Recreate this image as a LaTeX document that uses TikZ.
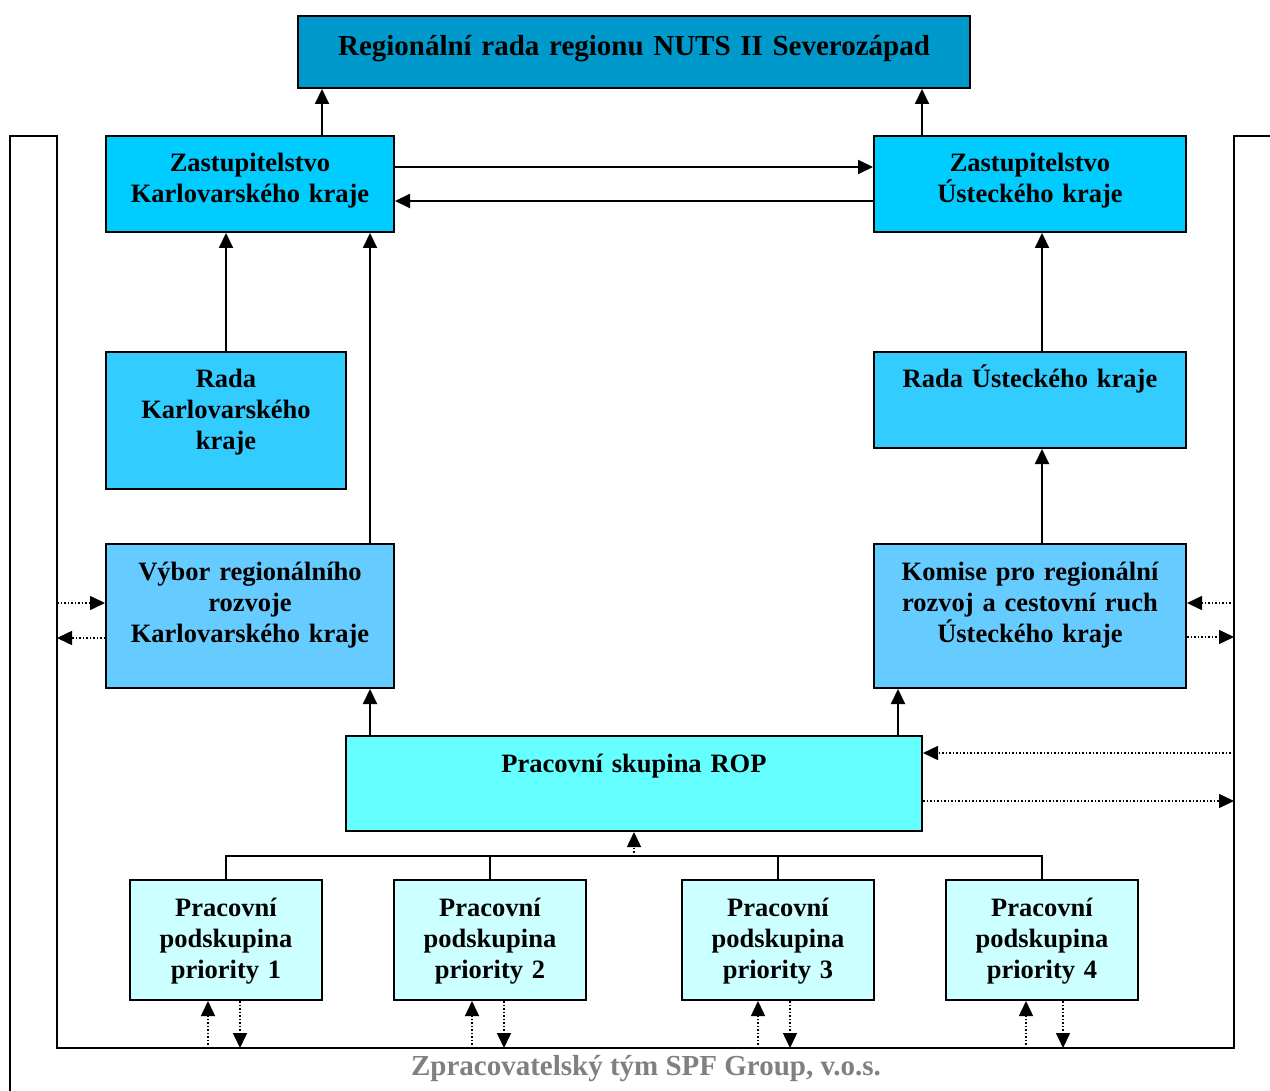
\documentclass[tikz,border=0pt]{standalone}
\usepackage{fontspec}
\setmainfont{Liberation Serif}
\usepackage{xcolor}
\definecolor{Col1}{RGB}{0,153,204}
\definecolor{Col2}{RGB}{0,204,255}
\definecolor{Col3}{RGB}{51,204,255}
\definecolor{Col4}{RGB}{102,204,255}
\definecolor{Col5}{RGB}{102,255,255}
\definecolor{Col6}{RGB}{204,255,255}
\definecolor{Col7}{RGB}{128,128,128}
\usepackage{tikz}
\usetikzlibrary{arrows.meta}
\newcommand{\BoxFont}{\fontsize{26.5}{31}\selectfont\bfseries\lineskiplimit=-100pt\relax}
\newcommand{\BigFont}{\fontsize{29}{31}\selectfont\bfseries}
\tikzstyle{Box}=[draw=black,line width=2pt,inner xsep=4pt,inner ysep=13pt,
text height=23pt,align=center,font=\BoxFont]
\tikzstyle{Edge}=[draw=black,line width=2pt,-{Triangle[length=15pt,width=14pt]}]
\tikzstyle{Dots}=[draw=black,line width=1.5pt,dash pattern=on 1.5pt off 2pt,
-{Triangle[length=15pt,width=14pt]}]
\tikzstyle{Line}=[draw=black,line width=2pt]
\tikzstyle{Foot}=[font=\BigFont,text=Col7,anchor=base]

\begin{document}
\begin{tikzpicture}[x=1pt,y=-1pt]
        \useasboundingbox(0,0)rectangle(1270,1091);
        \coordinate(FL)at(57,1048);
        \coordinate(FR)at(1234,1048);
        \draw[Line](10,1091)--(10,136)--(57,136)--(FL)--(FR)--(1234,136)--(1270,136);
        \node[Box,fill=Col1,font=\BigFont,text width=664pt,text height=27pt,text depth=19pt](RR)
            at(634,52){Regionální rada regionu NUTS II Severozápad};
        \node[Box,fill=Col2,text width=280pt,text depth=47pt](ZK)at(250,184)
            {Zastupitelstvo\\Karlovarského kraje};
        \node[Box,fill=Col2,text width=304pt,text depth=47pt](ZU)at(1030,184)
            {Zastupitelstvo\\Ústeckého kraje};
        \node[Box,fill=Col3,text width=232pt,text depth=88pt](RK)at(226,420.5)
            {Rada\\Karlovarského\\kraje};
        \node[Box,fill=Col3,text width=304pt,text depth=47pt](RU)at(1030,400)
            {Rada Ústeckého kraje};
        \node[Box,fill=Col4,text width=280pt,text depth=95pt](VK)at(250,616)
            {Výbor regionálního\\rozvoje\\Karlovarského kraje};
        \node[Box,fill=Col4,text width=304pt,text depth=95pt](KU)at(1030,616)
            {Komise pro regionální\\rozvoj a cestovní ruch\\Ústeckého kraje};
        \node[Box,fill=Col5,text width=568pt,text depth=46pt](ROP)at(634,783.5)
            {Pracovní skupina ROP};
        \node[Box,fill=Col6,text width=184pt,text depth=71pt](P1)at(226,940)
            {Pracovní\\podskupina\\priority 1};
        \node[Box,fill=Col6,text width=184pt,text depth=71pt](P2)at(490,940)
            {Pracovní\\podskupina\\priority 2};
        \node[Box,fill=Col6,text width=184pt,text depth=71pt](P3)at(778,940)
            {Pracovní\\podskupina\\priority 3};
        \node[Box,fill=Col6,text width=184pt,text depth=71pt](P4)at(1042,940)
            {Pracovní\\podskupina\\priority 4};
        \node[Foot](ZT)at(646,1075){Zpracovatelský tým SPF Group, v.o.s.};
        \draw[Edge]([xshift=72pt]ZK.north)--([xshift=72pt]ZK.north|-RR.south);
        \draw[Edge]([xshift=-108pt]ZU.north)--([xshift=-108pt]ZU.north|-RR.south);
        \draw[Edge]([yshift=17pt]ZK.east)--([yshift=17pt]ZK.east-|ZU.west);
        \draw[Edge]([yshift=-17pt]ZU.west)--([yshift=-17pt]ZU.west-|ZK.east);
        \draw[Edge](RK.north)--(RK.north|-ZK.south);
        \draw[Edge]([xshift=120pt]VK.north)--([xshift=120pt]VK.north|-ZK.south);
        \draw[Edge]([xshift=12pt]RU.north)--([xshift=12pt]RU.north|-ZU.south);
        \draw[Edge]([xshift=12pt]KU.north)--([xshift=12pt]KU.north|-RU.south);
        \draw[Edge]([xshift=-264pt]ROP.north)--([xshift=-264pt]ROP.north|-VK.south);
        \draw[Edge]([xshift=264pt]ROP.north)--([xshift=264pt]ROP.north|-KU.south);
        \coordinate(T)at(634,856);
        \draw[Line](P1.north)|-(P4.north|-T)--(P4.north);
        \draw[Line](P2.north)--(P2.north|-T);
        \draw[Line](P3.north)--(P3.north|-T);
        \draw[Dots](T)--(ROP.south);
        \draw[Dots]([yshift=13pt]VK.west-|FL)--([yshift=13pt]VK.west);
        \draw[Dots]([yshift=-22pt]VK.west)--([yshift=-22pt]VK.west-|FL);
        \draw[Dots]([yshift=13pt]KU.east-|FR)--([yshift=13pt]KU.east);
        \draw[Dots]([yshift=-21pt]KU.east)--([yshift=-21pt]KU.east-|FR);
        \draw[Dots]([yshift=30.5pt]ROP.east-|FR)--([yshift=30.5pt]ROP.east);
        \draw[Dots]([yshift=-17.5pt]ROP.east)--([yshift=-17.5pt]ROP.east-|FR);
        \draw[Dots]([xshift=-18pt]P1.south|-FL)--([xshift=-18pt]P1.south);
        \draw[Dots]([xshift=14pt]P1.south)--([xshift=14pt]P1.south|-FL);
        \draw[Dots]([xshift=-18pt]P2.south|-FL)--([xshift=-18pt]P2.south);
        \draw[Dots]([xshift=14pt]P2.south)--([xshift=14pt]P2.south|-FL);
        \draw[Dots]([xshift=-20pt]P3.south|-FL)--([xshift=-20pt]P3.south);
        \draw[Dots]([xshift=12pt]P3.south)--([xshift=12pt]P3.south|-FL);
        \draw[Dots]([xshift=-16pt]P4.south|-FL)--([xshift=-16pt]P4.south);
        \draw[Dots]([xshift=21pt]P4.south)--([xshift=21pt]P4.south|-FL);
    \end{tikzpicture}
\end{document}
